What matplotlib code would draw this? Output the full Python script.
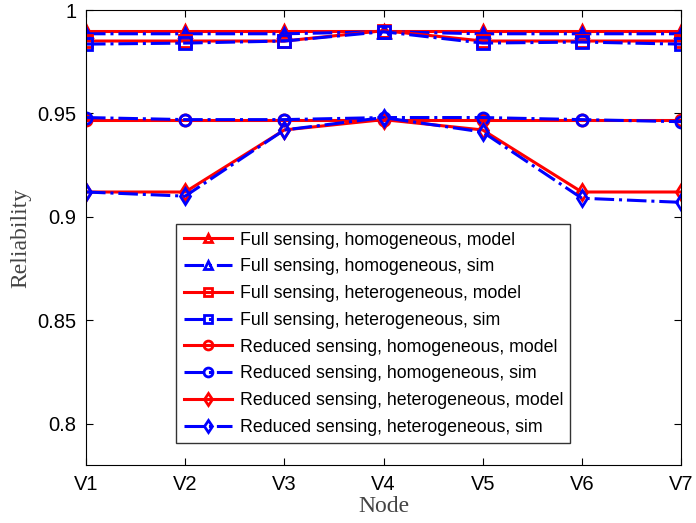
import numpy as np
import matplotlib.pyplot as plt

nodes = ['V1', 'V2', 'V3', 'V4', 'V5', 'V6', 'V7']

full_homo_model = [0.990, 0.990, 0.990, 0.990, 0.990, 0.990, 0.990]
full_homo_sim = [0.9885, 0.9885, 0.9885, 0.9895, 0.9885, 0.9885, 0.9885]
full_het_model = [0.985, 0.985, 0.985, 0.990, 0.985, 0.985, 0.985]
full_het_sim = [0.9835, 0.9840, 0.9850, 0.9895, 0.9840, 0.9845, 0.9835]
red_homo_model = [0.947, 0.947, 0.947, 0.947, 0.947, 0.947, 0.947]
red_homo_sim = [0.948, 0.947, 0.947, 0.948, 0.948, 0.947, 0.946]
red_het_model = [0.912, 0.912, 0.942, 0.947, 0.942, 0.912, 0.912]
red_het_sim = [0.912, 0.910, 0.942, 0.948, 0.941, 0.909, 0.907]

labels = ['Full sensing, homogeneous, model', 'Full sensing, homogeneous, sim',
          'Full sensing, heterogeneous, model', 'Full sensing, heterogeneous, sim',
          'Reduced sensing, homogeneous, model', 'Reduced sensing, homogeneous, sim',
          'Reduced sensing, heterogeneous, model', 'Reduced sensing, heterogeneous, sim']
series = [full_homo_model, full_homo_sim, full_het_model, full_het_sim,
          red_homo_model, red_homo_sim, red_het_model, red_het_sim]
markers = ['^', '^', 's', 's', 'o', 'o', 'd', 'd']

plt.rcParams['font.family'] = ['Liberation Sans', 'DejaVu Sans']
fig = plt.figure(figsize=(6.96, 5.23), dpi=100)
ax = fig.add_axes([86 / 696, 1 - 465 / 523, (681 - 86) / 696, (465 - 10) / 523])

x = np.arange(1, len(nodes) + 1)
for i, (y, lab, m) in enumerate(zip(series, labels, markers)):
    if i % 2 == 0:
        ax.plot(x, y, color='red', linestyle='-', linewidth=2.2, marker=m,
                markersize=8, markerfacecolor='none', markeredgewidth=2, label=lab)
    else:
        ax.plot(x, y, color='blue', linestyle='-.', linewidth=2.2, marker=m,
                markersize=8, markerfacecolor='none', markeredgewidth=2, label=lab)

ax.set_xlim(1, 7)
ax.set_ylim(0.78, 1.0)
ax.set_xticks(x)
ax.set_xticklabels(nodes)
ax.set_yticks([0.8, 0.85, 0.9, 0.95, 1.0])
ax.set_yticklabels(['0.8', '0.85', '0.9', '0.95', '1'])
ax.tick_params(direction='in', top=True, right=True, labelsize=14.5, length=5, pad=7)
ax.set_xlabel('Node', family='Liberation Serif', fontsize=17, color='#444444', labelpad=2)
ax.set_ylabel('Reliability', family='Liberation Serif', fontsize=17, color='#444444', labelpad=4)

leg = ax.legend(loc='lower left', bbox_to_anchor=(0.152, 0.048), fontsize=12.8,
                frameon=True, fancybox=False, edgecolor='black', handlelength=2.7,
                borderpad=0.4, labelspacing=0.55, handletextpad=0.45, markerscale=0.8,
                borderaxespad=0)
leg.get_frame().set_linewidth(1)

fig.savefig('out.png', dpi=100)
